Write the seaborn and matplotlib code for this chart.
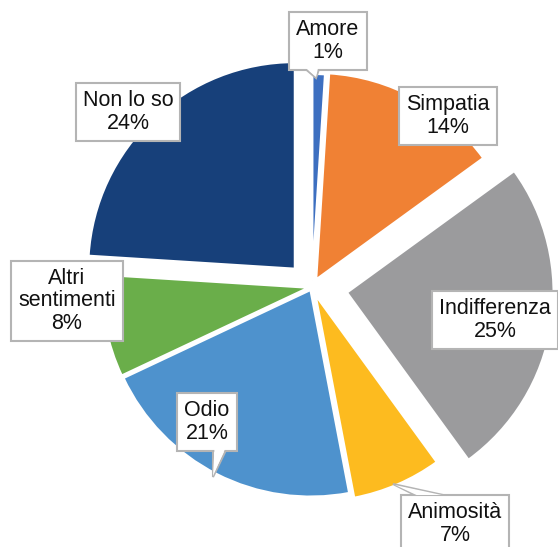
import matplotlib
matplotlib.use("Agg")
import matplotlib.pyplot as plt
import seaborn as sns
from matplotlib.patches import Polygon

sns.set_style("white")
plt.rcParams['font.family'] = ['Liberation Sans', 'DejaVu Sans']

categories = ["Amore", "Simpatia", "Indifferenza", "Animosità", "Odio",
              "Altri\nsentimenti", "Non lo so"]
values = [1, 14, 25, 7, 21, 8, 24]
colors = ["#3D6FC0", "#F08134", "#9B9B9D", "#FDBB1F", "#4E92CD", "#6AAE4A", "#17407A"]
explode = [0.03, 0.04, 0.17, 0.04, 0.015, 0.015, 0.12]

W, H = 558, 547
CX, CY, R = 312, 287, 207

fig = plt.figure(figsize=(W / 100, H / 100), dpi=100)
ax = fig.add_axes([0, 0, 1, 1])

def P(px, py):
    return ((px - CX) / R, (CY - py) / R)

wedges, _ = ax.pie(values, colors=colors, explode=explode, startangle=90,
                   counterclock=False, radius=1.0,
                   wedgeprops=dict(edgecolor="white", linewidth=1.8))

ax.set_xlim(-CX / R, (W - CX) / R)
ax.set_ylim((CY - H) / R, CY / R)
ax.set_aspect("auto")
ax.axis("off")

# label box centres (pixel layout)
label_pos = [(328, 41), (448, 116), (495, 320), (455, 524), (207, 422),
             (67, 301), (128, 112)]
# callout pointers: (base1, base2, tip) in pixels
pointers = {
    0: [(302, 66), (320, 66), (316, 78)],
    3: [(415, 495), (443, 495), (393, 484)],
    4: [(213, 448), (227, 448), (213, 477)],
}

for i, (cat, v) in enumerate(zip(categories, values)):
    x, y = P(*label_pos[i])
    if i in pointers:
        pts = [P(*p) for p in pointers[i]]
        ax.add_patch(Polygon(pts, closed=True, facecolor="white",
                             edgecolor="#B4B4B4", linewidth=1.5, zorder=4))
    ax.text(x, y, f"{cat}\n{v}%", ha="center", va="center", fontsize=15.5,
            color="#111111", linespacing=1.1, zorder=5,
            bbox=dict(boxstyle="square,pad=0.32", facecolor="white",
                      edgecolor="#B4B4B4", linewidth=1.5))
    if i in pointers:
        b1, b2, tip = pointers[i]
        pts = [P(b1[0] + 1.5, b1[1]), P(b2[0] - 1.5, b2[1]),
               P(tip[0] + (0 if i != 3 else 2), tip[1] - (1 if i != 3 else -1))]
        ax.add_patch(Polygon(pts, closed=True, facecolor="white",
                             edgecolor="none", zorder=6))

fig.savefig("out.png", dpi=100)
